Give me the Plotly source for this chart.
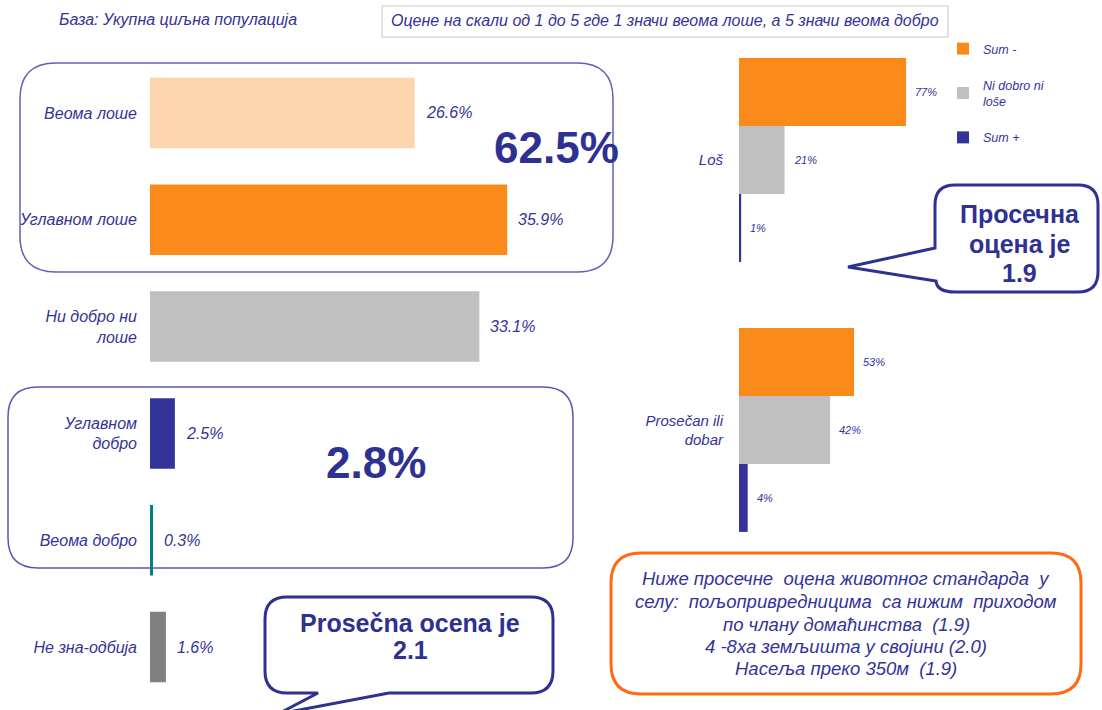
import plotly.graph_objects as go

W, H = 1102, 710
FONT = "Liberation Sans, Arial, sans-serif"
BLUE = "#333399"
DARK = "#2e3192"

# ---------------- data ----------------
left_categories = ["Веома лоше", "Углавном лоше", "Ни добро ни<br>лоше",
                   "Углавном<br>добро", "Веома добро", "Не зна-одбија"]
left_values = [26.6, 35.9, 33.1, 2.5, 0.3, 1.6]
left_colors = ["#FCD5AE", "#FA8A19", "#C0C0C0", "#333399", "#008080", "#808080"]

right_categories = ["Loš", "Prosečan ili<br>dobar"]
series_names = ["Sum -", "Ni dobro ni<br>loše", "Sum +"]
sum_minus = [77, 53]
neither = [21, 42]
sum_plus = [1, 4]
series_values = [sum_minus, neither, sum_plus]
series_colors = ["#FA8A19", "#C0C0C0", "#333399"]

total_bad = "62.5%"
total_good = "2.8%"
note_lines = ["Ниже просечне  оцена животног стандарда  у",
              "селу:  пољопривредницима  са нижим  приходом",
              "по члану домаћинства  (1.9)",
              "4 -8ха земљишта у својини (2.0)",
              "Насеља преко 350м  (1.9)"]
callout_right = ["Просечна", "оцена је", "1.9"]
callout_bottom = ["Prosečna ocena je", "2.1"]

# ---------------- helpers ----------------
def P(x, y):
    return f"{x / W:.5f},{1 - y / H:.5f}"

def rrect(x0, y0, x1, y1, r):
    return (f"M {P(x0 + r, y0)} L {P(x1 - r, y0)} Q {P(x1, y0)} {P(x1, y0 + r)} "
            f"L {P(x1, y1 - r)} Q {P(x1, y1)} {P(x1 - r, y1)} L {P(x0 + r, y1)} "
            f"Q {P(x0, y1)} {P(x0, y1 - r)} L {P(x0, y0 + r)} Q {P(x0, y0)} {P(x0 + r, y0)} Z")

fig = go.Figure()

# left chart
fig.add_trace(go.Bar(
    y=left_categories, x=left_values, orientation="h",
    marker=dict(color=left_colors, line=dict(width=0)),
    width=0.66, xaxis="x", yaxis="y", showlegend=False, hoverinfo="x+y",
))

# right chart
for i, (name, vals, col) in enumerate(zip(series_names, series_values, series_colors)):
    fig.add_trace(go.Bar(
        y=right_categories, x=vals, name=name, orientation="h",
        marker=dict(color=col, line=dict(width=0)),
        xaxis="x2", yaxis="y2", legendgroup=f"g{i}",
    ))

annotations = []
# left value labels
for i, v in enumerate(left_values):
    annotations.append(dict(
        x=v, y=i, xref="x", yref="y", text=f"{v:.1f}%", showarrow=False,
        xanchor="left", yanchor="middle", xshift=9,
        font=dict(family=FONT, size=16, color=BLUE, style="italic"),
    ))
# right value labels
bargap = 0.245
bw = (1 - bargap) / 3
for k, vals in enumerate(series_values):
    for i, v in enumerate(vals):
        annotations.append(dict(
            x=v, y=i + (k - 1) * bw, xref="x2", yref="y2", text=f"{v}%",
            showarrow=False, xanchor="left", yanchor="middle", xshift=7,
            font=dict(family=FONT, size=11, color=BLUE, style="italic"),
        ))

def txt(x, y, text, size, bold=False, italic=False, color=BLUE, xanchor="center", align="center"):
    annotations.append(dict(
        x=x / W, y=1 - y / H, xref="paper", yref="paper", text=text, showarrow=False,
        xanchor=xanchor, yanchor="middle", align=align,
        font=dict(family=FONT, size=size, color=color,
                  weight="bold" if bold else "normal",
                  style="italic" if italic else "normal"),
    ))

txt(57, 20, "База: Укупна циљна популација", 16, italic=True, xanchor="left")
txt(665, 21, "Оцене на скали од 1 до 5 где 1 значи веома лоше, а 5 значи веома добро", 16, italic=True)
txt(556, 148, total_bad, 44, bold=True, color=DARK)
txt(376, 462, total_good, 44, bold=True, color=DARK)
for line, yy in zip(callout_right, [214, 244, 273]):
    txt(1020, yy, line, 25, bold=True, color=DARK)
for line, yy in zip(callout_bottom, [623, 650]):
    txt(410, yy, line, 25, bold=True, color=DARK)
for line, yy in zip(note_lines, [578, 601, 624, 646, 668]):
    txt(846, yy, line, 18.5, italic=True)

shapes = [
    dict(type="path", xref="paper", yref="paper", path=rrect(20, 63, 613, 272, 36),
         line=dict(color="#6161B5", width=1.5)),
    dict(type="path", xref="paper", yref="paper", path=rrect(8, 387, 573, 568, 30),
         line=dict(color="#5757B0", width=1.5)),
    dict(type="rect", xref="paper", yref="paper", x0=382 / W, x1=948 / W, y0=1 - 6 / H, y1=1 - 37 / H,
         line=dict(color="#C8C8C8", width=1)),
    dict(type="path", xref="paper", yref="paper", path=rrect(611, 553, 1081, 694, 30),
         line=dict(color="#FF6A13", width=3)),
    # right callout
    dict(type="path", xref="paper", yref="paper", fillcolor="white",
         path=(f"M {P(955,185)} L {P(1078,185)} Q {P(1098,185)} {P(1098,205)} L {P(1098,272)} "
               f"Q {P(1098,292)} {P(1078,292)} L {P(955,292)} Q {P(937,292)} {P(936,281)} "
               f"L {P(848,267)} L {P(935,248)} L {P(935,205)} Q {P(935,185)} {P(955,185)} Z"),
         line=dict(color=DARK, width=3)),
    # bottom callout
    dict(type="path", xref="paper", yref="paper", fillcolor="white",
         path=(f"M {P(287,597)} L {P(531,597)} Q {P(553,597)} {P(553,619)} L {P(553,671)} "
               f"Q {P(553,693)} {P(531,693)} L {P(389,693)} L {P(278,714)} L {P(318,693)} "
               f"L {P(287,693)} Q {P(265,693)} {P(265,671)} L {P(265,619)} Q {P(265,597)} {P(287,597)} Z"),
         line=dict(color=DARK, width=3)),
]

axis_off = dict(showgrid=False, zeroline=False, showline=False, showticklabels=False, ticks="")

fig.update_layout(
    width=W, height=H, margin=dict(l=0, r=0, t=0, b=0),
    paper_bgcolor="white", plot_bgcolor="rgba(0,0,0,0)",
    barmode="group", bargap=bargap, bargroupgap=0,
    font=dict(family=FONT, color=BLUE),
    xaxis=dict(domain=[150 / W, 640 / W], range=[0, 490 / 9.95], fixedrange=True, **axis_off),
    yaxis=dict(domain=[1 - 700.5 / H, 1 - 59.5 / H], range=[5.5, -0.5], type="category",
               showgrid=False, zeroline=False, showline=False, ticks="", ticklabelstandoff=12,
               tickfont=dict(family=FONT, size=16, color=BLUE, style="italic"), anchor="x"),
    xaxis2=dict(domain=[739 / W, 1000 / W], range=[0, 261 / 2.17], anchor="y2", fixedrange=True, **axis_off),
    yaxis2=dict(domain=[1 - 565 / H, 1 - 25 / H], range=[1.5, -0.5], type="category", anchor="x2",
                showgrid=False, zeroline=False, showline=False, ticks="", ticklabelstandoff=15,
                tickfont=dict(family=FONT, size=15, color=BLUE, style="italic")),
    legend=dict(x=943 / W, y=1 - 34 / H, xanchor="left", yanchor="top", tracegroupgap=17,
                font=dict(family=FONT, size=12.5, color=BLUE, style="italic"),
                bgcolor="rgba(0,0,0,0)"),
    annotations=annotations, shapes=shapes,
)

fig.write_html("out.html", config={"displayModeBar": False},
               post_script="document.body.style.margin='0';")
